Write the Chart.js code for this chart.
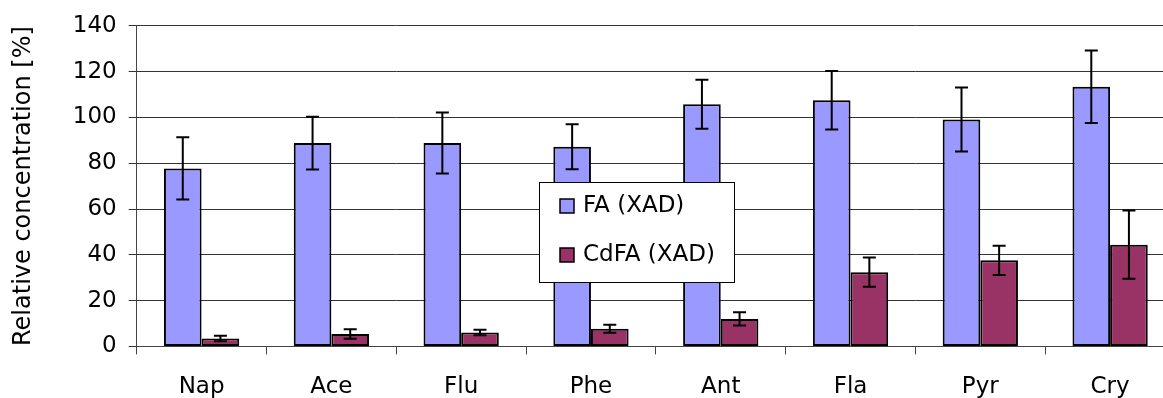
<!DOCTYPE html>
<html>
<head>
<meta charset="utf-8">
<script src="https://cdn.jsdelivr.net/npm/chart.js@4.4.1/dist/chart.umd.min.js"></script>
<style>
  html, body { margin: 0; padding: 0; background: #fff; overflow: hidden; }
  #wrap { width: 1180px; height: 420px; }
</style>
</head>
<body>
<div id="wrap"><canvas id="recoveryChart"></canvas></div>
<script>
// PAH recovery, relative to control
const compounds = ['Nap', 'Ace', 'Flu', 'Phe', 'Ant', 'Fla', 'Pyr', 'Cry'];
const faXad = [77.7, 88.8, 88.8, 87.2, 105.7, 107.5, 99.1, 113.4];
const faXadErr = [13.6, 11.5, 13.3, 9.8, 10.7, 12.8, 14.0, 15.8];
const cdfaXad = [3.5, 5.4, 6.1, 7.7, 12.0, 32.4, 37.6, 44.4];
const cdfaXadErr = [1.2, 2.1, 1.2, 1.7, 2.9, 6.4, 6.4, 14.9];
const yTicks = [0, 20, 40, 60, 80, 100, 120, 140];

const FONT = '"DejaVu Sans", Arial, sans-serif';

// whiskers with caps, one per bar
const errorBars = {
  id: 'errorBars',
  afterDatasetsDraw(chart) {
    const ctx = chart.ctx;
    const y = chart.scales.y;
    ctx.save();
    ctx.strokeStyle = '#000';
    ctx.lineWidth = 2;
    chart.data.datasets.forEach((ds, di) => {
      const meta = chart.getDatasetMeta(di);
      meta.data.forEach((bar, i) => {
        const v = ds.data[i], e = ds.errors[i];
        const top = y.getPixelForValue(v + e);
        const bot = y.getPixelForValue(v - e);
        ctx.beginPath();
        ctx.moveTo(bar.x, top); ctx.lineTo(bar.x, bot);
        ctx.moveTo(bar.x - 6.5, top); ctx.lineTo(bar.x + 6.5, top);
        ctx.moveTo(bar.x - 6.5, bot); ctx.lineTo(bar.x + 6.5, bot);
        ctx.stroke();
      });
    });
    ctx.restore();
  }
};

// boxed legend sitting inside the plot
const boxLegend = {
  id: 'boxLegend',
  afterDraw(chart, args, opts) {
    const ctx = chart.ctx;
    ctx.save();
    ctx.fillStyle = '#fff';
    ctx.fillRect(opts.x, opts.y, opts.w, opts.h);
    ctx.strokeStyle = '#000';
    ctx.lineWidth = 1;
    ctx.strokeRect(opts.x + 0.5, opts.y + 0.5, opts.w, opts.h);
    ctx.font = '23px ' + FONT;
    ctx.textBaseline = 'middle';
    chart.data.datasets.forEach((ds, i) => {
      const cy = opts.y + 24 + i * 49;
      ctx.fillStyle = ds.backgroundColor;
      ctx.fillRect(opts.x + 21, cy - 7, 14, 14);
      ctx.lineWidth = 1.5;
      ctx.strokeRect(opts.x + 21, cy - 7, 14, 14);
      ctx.fillStyle = '#000';
      ctx.fillText(ds.label, opts.x + 44, cy);
    });
    ctx.restore();
  }
};

new Chart(document.getElementById('recoveryChart'), {
  type: 'bar',
  data: {
    labels: compounds,
    datasets: [
      {
        label: 'FA (XAD)',
        data: faXad,
        errors: faXadErr,
        backgroundColor: '#9999ff',
        borderColor: '#000',
        borderWidth: 2,
        borderSkipped: false
      },
      {
        label: 'CdFA (XAD)',
        data: cdfaXad,
        errors: cdfaXadErr,
        backgroundColor: '#993366',
        borderColor: '#000',
        borderWidth: 2,
        borderSkipped: false
      }
    ]
  },
  options: {
    responsive: true,
    maintainAspectRatio: false,
    animation: false,
    events: [],
    layout: { padding: { top: 9, right: 5, left: 4, bottom: 0 } },
    datasets: { bar: { categoryPercentage: 0.58, barPercentage: 1 } },
    plugins: {
      legend: { display: false },
      tooltip: { enabled: false },
      boxLegend: { x: 539, y: 182, w: 195, h: 100 }
    },
    scales: {
      x: {
        grid: { drawOnChartArea: false, offset: true, tickLength: 8, color: '#444' },
        border: { color: '#444', width: 1 },
        ticks: { color: '#000', font: { family: FONT, size: 23 }, padding: 19 }
      },
      y: {
        min: 0,
        max: 140,
        afterBuildTicks(scale) { scale.ticks = yTicks.map(v => ({ value: v })); },
        grid: { color: '#333', tickLength: 8, lineWidth: 1 },
        border: { color: '#444', width: 1 },
        ticks: { color: '#000', font: { family: FONT, size: 23 }, padding: 12 },
        title: {
          display: true,
          text: 'Relative concentration [%]',
          color: '#000',
          font: { family: FONT, size: 24 },
          padding: { top: 5, bottom: 23 }
        }
      }
    }
  },
  plugins: [errorBars, boxLegend]
});
</script>
</body>
</html>
